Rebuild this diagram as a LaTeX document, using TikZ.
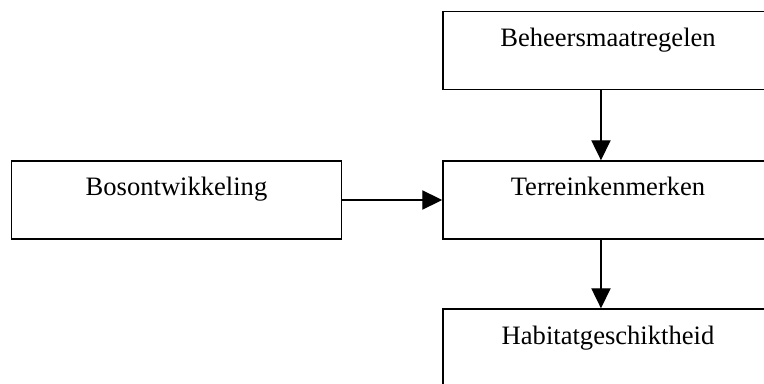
\documentclass[tikz,border=0pt]{standalone}
\usepackage{fontspec}
\setmainfont{Liberation Serif}
\usetikzlibrary{arrows.meta,positioning}

\begin{document}
\begin{tikzpicture}[x=0.025cm,y=0.025cm,>={Triangle[length=0.5cm,width=0.48cm]},
  blok/.style={draw,line width=1pt,inner sep=0pt,minimum width=8.25cm,minimum height=1.95cm,
    text height=0.875cm,text depth=1.075cm,font=\fontsize{18.9}{22}\selectfont},
  pijl/.style={->,line width=1pt}]
  \useasboundingbox (0,0) rectangle (764,383);
  \clip (0,0) rectangle (764,383);
  \node[blok] (beheer) at (608,332.5) {Beheersmaatregelen};
  \node[blok] (terrein) at (608,183) {Terreinkenmerken};
  \node[blok] (bos) at (176.5,183) {Bosontwikkeling};
  \node[blok] (habitat) at (608,35) {Habitatgeschiktheid};
  \draw[pijl] ([xshift=-5]beheer.south) -- ([xshift=-5]terrein.north);
  \draw[pijl] (bos.east) -- (terrein.west);
  \draw[pijl] ([xshift=-5]terrein.south) -- ([xshift=-5]habitat.north);
\end{tikzpicture}
\end{document}
